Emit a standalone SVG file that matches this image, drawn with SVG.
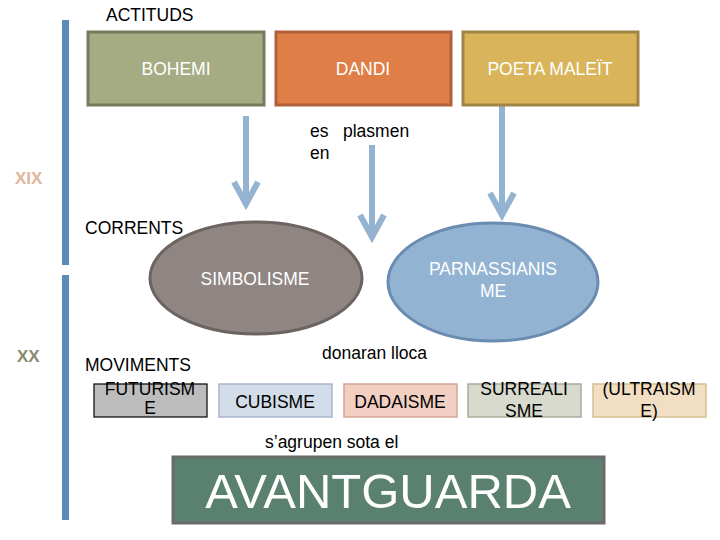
<svg xmlns="http://www.w3.org/2000/svg" width="720" height="540" viewBox="0 0 720 540">
<style>
text{font-family:"Liberation Sans",Arial,sans-serif;font-size:17.5px}
.w{fill:#fff}
.c{text-anchor:middle}
.k{fill:#000}
.era{font-weight:bold;font-size:17px}
.big{font-size:49px}
.arr{stroke:#93b3d0;stroke-width:6;fill:none}
.mv{stroke-width:1.5}
</style>
<rect width="720" height="540" fill="#fff"/>
<g id="timeline">
<rect x="62" y="20" width="7" height="245" fill="#5b8cb8"/>
<rect x="62" y="275" width="7" height="245" fill="#5b8cb8"/>
<text x="15" y="184" fill="#e2b49a" class="era">XIX</text>
<text x="17" y="362" fill="#8a8a6c" class="era">XX</text>
</g>
<g id="labels">
<text x="106" y="21" class="k">ACTITUDS</text>
<text x="310" y="137" class="k">es<tspan x="343">plasmen</tspan></text>
<text x="310" y="159" class="k">en</text>
<text x="85" y="234" class="k">CORRENTS</text>
<text x="85" y="371" class="k">MOVIMENTS</text>
<text x="322" y="359" class="k">donaran lloca</text>
<text x="265" y="448" class="k">s’agrupen sota el</text>
</g>
<g id="connectors">
<path class="arr" d="M246 116V204M234 182L246 204L258 182"/>
<path class="arr" d="M372 145V237M360 215L372 237L384 215"/>
<path class="arr" d="M502 106V215M490 193L502 215L514 193"/>
</g>
<g id="bohemi">
<rect x="88" y="32" width="176" height="73" fill="#a5ab82" stroke="#77795c" stroke-width="3"/>
<text x="176" y="75" class="w c">BOHEMI</text>
</g>
<g id="dandi">
<rect x="276" y="32" width="175" height="73" fill="#df7f47" stroke="#b0603a" stroke-width="3"/>
<text x="363" y="75" class="w c">DANDI</text>
</g>
<g id="poeta">
<rect x="463" y="32" width="175" height="73" fill="#d9b45b" stroke="#a08547" stroke-width="3"/>
<text x="550" y="75" class="w c">POETA MALEÏT</text>
</g>
<g id="simbolisme">
<ellipse cx="256" cy="278" rx="106" ry="56" fill="#8f8583" stroke="#6d6462" stroke-width="3"/>
<text x="255" y="285" class="w c">SIMBOLISME</text>
</g>
<g id="parnassianisme">
<ellipse cx="493" cy="282" rx="105" ry="59" fill="#93b3d2" stroke="#6a8cb0" stroke-width="3"/>
<text x="493" y="275" class="w c">PARNASSIANIS</text>
<text x="493" y="297" class="w c">ME</text>
</g>
<g id="futurisme">
<rect x="94" y="384" width="113" height="33" fill="#bdbdbd" stroke="#000" stroke-width="1.2"/>
<text x="150" y="395" class="k c">FUTURISM</text>
<text x="150" y="414" class="k c">E</text>
</g>
<g id="cubisme">
<rect x="219" y="384" width="113" height="33" fill="#d3dde9" stroke="#a6b6cc" class="mv"/>
<text x="275" y="408" class="k c">CUBISME</text>
</g>
<g id="dadaisme">
<rect x="344" y="384" width="113" height="33" fill="#f2cfc3" stroke="#d4a594" class="mv"/>
<text x="400" y="408" class="k c">DADAISME</text>
</g>
<g id="surrealisme">
<rect x="468" y="384" width="113" height="33" fill="#d8dace" stroke="#a9ac99" class="mv"/>
<text x="524" y="395" class="k c">SURREALI</text>
<text x="524" y="417" class="k c">SME</text>
</g>
<g id="ultraisme">
<rect x="593" y="384" width="113" height="33" fill="#f2dfc3" stroke="#d6bf93" class="mv"/>
<text x="649" y="395" class="k c">(ULTRAISM</text>
<text x="649" y="417" class="k c">E)</text>
</g>
<g id="avantguarda">
<rect x="173" y="457" width="431" height="66" fill="#5a8070" stroke="#6a6a6a" stroke-width="3"/>
<text x="388" y="508" class="w c big">AVANTGUARDA</text>
</g>
</svg>
